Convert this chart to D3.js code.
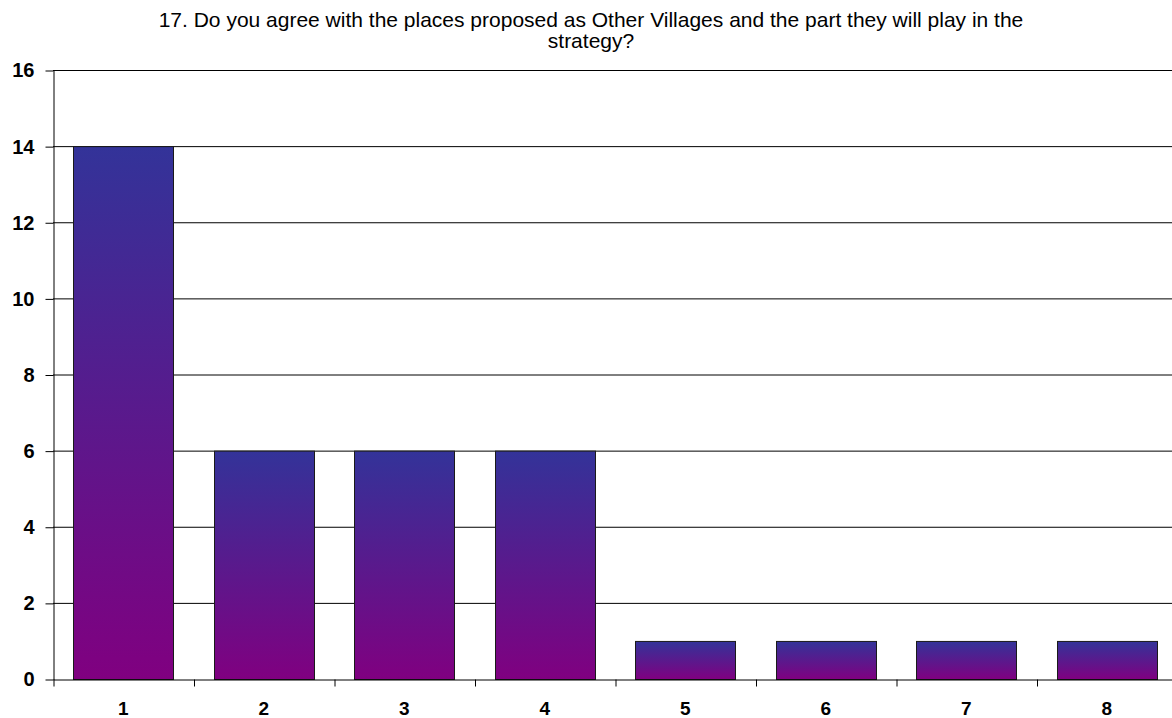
<!DOCTYPE html>
<html>
<head>
    <meta charset="utf-8">
    <script src="https://cdn.jsdelivr.net/npm/d3@7"></script>
    <title>Q17</title>
    <style>
        * { margin: 0; padding: 0; }
        body { background: #fff; }
        svg { display: block; }
    </style>
</head>
<body>
    <div id="chart"></div>
    <script>
        // chart data
        var categories = ["1", "2", "3", "4", "5", "6", "7", "8"];
        var counts = [14, 6, 6, 6, 1, 1, 1, 1];
        var yTicks = [0, 2, 4, 6, 8, 10, 12, 14, 16];
        var titleLines = [
            "17. Do you agree with the places proposed as Other Villages and the part they will play in the",
            "strategy?"
        ];

        var W = 1172, H = 718;
        var plotLeft = 53, plotRight = 1177, plotTop = 70, plotBottom = 679;
        var font = "Liberation Sans, Arial, sans-serif";

        var svg = d3.select("#chart")
            .append("svg")
            .attr("width", W)
            .attr("height", H);

        var defs = svg.append("defs");
        var grad = defs.append("linearGradient")
            .attr("id", "barGrad")
            .attr("x1", 0).attr("y1", 0)
            .attr("x2", 0).attr("y2", 1);
        grad.append("stop").attr("offset", "0%").attr("stop-color", "#333399");
        grad.append("stop").attr("offset", "100%").attr("stop-color", "#800080");

        var xScale = d3.scaleBand()
            .domain(categories)
            .range([plotLeft, plotRight])
            .paddingInner(0.288)
            .paddingOuter(0.144);

        var xEdges = d3.scaleLinear()
            .domain([0, categories.length])
            .range([plotLeft, plotRight]);

        var yScale = d3.scaleLinear()
            .domain([0, 16])
            .range([plotBottom, plotTop]);

        // gridlines
        svg.append("g")
            .selectAll("line")
            .data(yTicks.filter(d => d > 0))
            .enter()
            .append("line")
            .attr("x1", plotLeft)
            .attr("x2", W)
            .attr("y1", d => yScale(d) + 0.5)
            .attr("y2", d => yScale(d) + 0.5)
            .style("stroke", "#000")
            .style("stroke-width", 1);

        // bars
        svg.selectAll(".bar")
            .data(counts)
            .enter()
            .append("rect")
            .attr("class", "bar")
            .attr("x", (d, i) => Math.round(xScale(categories[i])) + 0.5)
            .attr("y", d => yScale(d) + 0.5)
            .attr("width", Math.round(xScale.bandwidth()))
            .attr("height", d => yScale(0) - yScale(d))
            .style("fill", "url(#barGrad)")
            .style("stroke", "#1a1a1a")
            .style("stroke-width", 1);

        // y axis
        var yAxis = svg.append("g")
            .attr("transform", "translate(" + (plotLeft + 0.5) + ",0.5)")
            .call(d3.axisLeft(yScale)
                .tickValues(yTicks)
                .tickSizeInner(8)
                .tickSizeOuter(0)
                .tickPadding(11));
        yAxis.selectAll("text")
            .style("font-family", font)
            .style("font-size", "20px")
            .style("font-weight", "bold")
            .style("fill", "#000");
        yAxis.selectAll("line, path").style("stroke", "#000");

        // x axis line with tick marks at category edges
        var xAxis = svg.append("g")
            .attr("transform", "translate(0," + (plotBottom + 0.5) + ")")
            .call(d3.axisBottom(xEdges)
                .tickValues(d3.range(categories.length + 1))
                .tickFormat("")
                .tickSizeInner(7)
                .tickSizeOuter(0));
        xAxis.selectAll("line, path").style("stroke", "#000");
        xAxis.selectAll(".tick line").attr("transform", "translate(0.5,0)");

        var xLabels = svg.append("g")
            .attr("transform", "translate(0," + plotBottom + ")")
            .call(d3.axisBottom(xScale).tickSize(0).tickPadding(23));
        xLabels.select(".domain").remove();
        xLabels.selectAll("text")
            .style("font-family", font)
            .style("font-size", "19px")
            .style("font-weight", "bold")
            .style("fill", "#000");

        // title
        svg.append("text")
            .attr("x", 591)
            .attr("y", 27)
            .attr("text-anchor", "middle")
            .style("font-family", font)
            .style("font-size", "21px")
            .style("fill", "#000")
            .selectAll("tspan")
            .data(titleLines)
            .enter()
            .append("tspan")
            .attr("x", 591)
            .attr("dy", (d, i) => i === 0 ? 0 : 21)
            .text(d => d);
    </script>
</body>
</html>
